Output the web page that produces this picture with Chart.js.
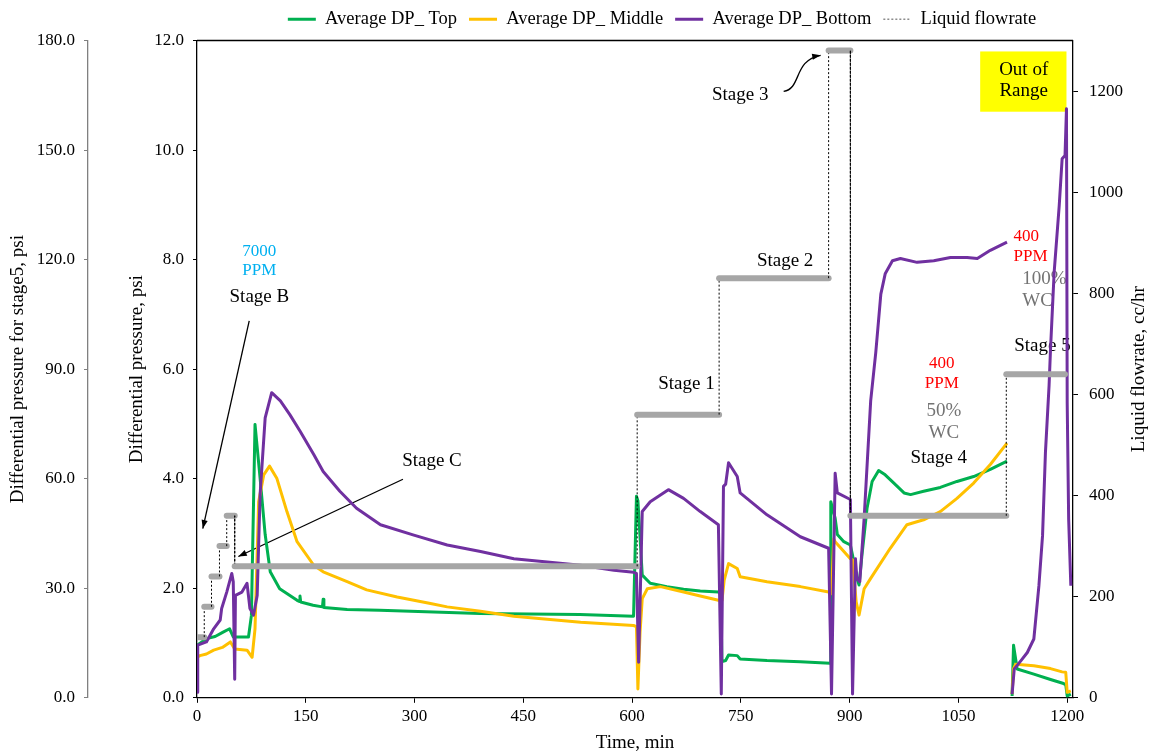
<!DOCTYPE html>
<html>
<head>
<meta charset="utf-8">
<script src="https://cdn.jsdelivr.net/npm/chart.js@4"></script>
<style>
  html, body { margin: 0; padding: 0; background: #fff; }
  #wrap { width: 1152px; height: 755px; }
</style>
</head>
<body>
<div id="wrap"><canvas id="graficoDP"></canvas></div>
<script>
// Tempo (min) e pressão diferencial (psi) - estágios B, C, 1 a 4
const tTop = [
  0, 13, 25, 36, 45, 50, 71, 75, 80, 87,
  94, 101, 114, 138, 141, 142, 143, 160, 173, 174,
  175, 207, 252, 390, 528, 602, 606, 608, 614, 625,
  648, 671, 694, 719, 722, 724, 729, 733, 745, 749,
  786, 832, 873, 874, 880, 883, 892, 901, 904, 910,
  913, 917, 924, 931, 940, 949, 961, 975, 984, 1002,
  1025, 1048, 1071, 1094, 1117
];
const dpTop = [
  0.96, 1.08, 1.12, 1.20, 1.26, 1.11, 1.11, 1.50, 4.99, 4.01,
  2.98, 2.30, 1.99, 1.78, 1.76, 1.86, 1.75, 1.69, 1.66, 1.80,
  1.65, 1.61, 1.60, 1.54, 1.52, 1.49, 3.68, 3.60, 2.24, 2.09,
  2.03, 1.98, 1.95, 1.93, 1.90, 0.66, 0.68, 0.78, 0.77, 0.71,
  0.68, 0.66, 0.63, 3.58, 3.28, 2.98, 2.85, 2.79, 2.60, 2.18,
  2.06, 2.61, 3.46, 3.95, 4.15, 4.07, 3.92, 3.74, 3.71, 3.77,
  3.84, 3.95, 4.04, 4.17, 4.32
];

const tMid = [
  0, 4, 13, 23, 35, 46, 52, 69, 76, 80,
  85, 92, 100, 110, 124, 138, 161, 174, 207, 234,
  276, 322, 345, 391, 437, 529, 602, 606, 608, 611,
  614, 621, 639, 671, 694, 719, 724, 727, 733, 745,
  749, 786, 832, 871, 875, 878, 880, 901, 904, 909,
  913, 920, 929, 956, 979, 1002, 1025, 1048, 1071, 1094,
  1117
];
const dpMid = [
  0.74, 0.77, 0.80, 0.87, 0.92, 1.02, 0.89, 0.87, 0.74, 1.26,
  3.58, 4.07, 4.23, 4.01, 3.40, 2.85, 2.42, 2.30, 2.12, 1.97,
  1.84, 1.72, 1.66, 1.58, 1.49, 1.38, 1.32, 1.30, 0.16, 1.20,
  1.81, 1.99, 2.03, 1.93, 1.86, 1.78, 1.78, 2.15, 2.45, 2.36,
  2.21, 2.12, 2.03, 1.93, 1.90, 2.90, 2.85, 2.54, 2.52, 1.75,
  1.51, 1.99, 2.18, 2.73, 3.16, 3.25, 3.40, 3.64, 3.92, 4.26,
  4.65
];

const tBot = [
  0, 1, 13, 23, 32, 34, 41, 48, 50, 52,
  53, 62, 69, 73, 78, 83, 87, 94, 103, 115,
  128, 142, 161, 174, 197, 220, 253, 299, 345, 391,
  437, 483, 529, 575, 602, 606, 609, 614, 625, 650,
  671, 694, 719, 723, 726, 729, 733, 745, 749, 786,
  832, 871, 875, 880, 883, 901, 904, 908, 910, 914,
  920, 929, 936, 943, 949, 959, 970, 993, 1016, 1039,
  1062, 1076, 1094, 1117
];
const dpBot = [
  0.10, 0.96, 1.02, 1.26, 1.42, 1.63, 1.93, 2.27, 2.12, 0.34,
  1.87, 1.93, 2.09, 1.63, 1.51, 1.87, 3.71, 5.11, 5.57, 5.42,
  5.17, 4.87, 4.44, 4.13, 3.77, 3.46, 3.16, 2.97, 2.79, 2.67,
  2.54, 2.48, 2.42, 2.33, 2.29, 2.27, 0.65, 3.40, 3.58, 3.80,
  3.64, 3.40, 3.16, 0.07, 3.86, 3.90, 4.29, 4.04, 3.74, 3.34,
  2.94, 2.73, 0.07, 4.10, 3.74, 3.62, 0.07, 2.54, 2.18, 2.12,
  3.28, 5.42, 6.30, 7.37, 7.74, 7.98, 8.02, 7.95, 7.98, 8.04,
  8.04, 8.02, 8.17, 8.32
];

// Estágio 5 (eixo secundário da esquerda, 0-180 psi)
const tTop5 = [1124, 1126, 1131, 1154, 1177, 1195, 1198, 1200, 1205];
const dpTop5 = [0.5, 14.4, 7.9, 6.5, 5.0, 3.9, 3.6, 0.5, 1.0];
const tMid5 = [1124, 1126, 1129, 1154, 1177, 1193, 1198, 1200, 1205];
const dpMid5 = [1.0, 8.0, 9.2, 8.8, 8.0, 7.1, 7.0, 1.5, 1.9];
const tBot5 = [1124, 1127, 1136, 1145, 1154, 1161, 1166, 1170, 1175, 1177, 1182, 1189, 1193, 1197, 1199, 1200, 1202, 1205];
const dpBot5 = [1.0, 7.9, 10.1, 12.4, 16.1, 30.7, 44.4, 67.2, 85.5, 95.5, 116.5, 134.8, 147.6, 148.5, 161.3, 80.8, 49.0, 30.7];

// Vazão de líquido (cc/hr) em degraus
const tFlow = [1, 10, 10, 20, 20, 31, 31, 41, 41, 52, 52, 607, 607, 720, 720, 871, 871, 901, 901, 1116, 1116, 1197];
const qFlow = [120, 120, 180, 180, 240, 240, 300, 300, 360, 360, 260, 260, 560, 560, 830, 830, 1280, 1280, 360, 360, 640, 640];

const serieNomes = ['Average DP_ Top', 'Average DP_ Middle', 'Average DP_ Bottom', 'Liquid flowrate'];
const xTicks = [0, 150, 300, 450, 600, 750, 900, 1050, 1200];
const flowTicks = [0, 200, 400, 600, 800, 1000, 1200];

const VERDE = '#00B050', AMARELO = '#FFC000', ROXO = '#7030A0', CINZA = '#A6A6A6';
const SERIF = '"Liberation Serif", "Times New Roman", serif';
Chart.defaults.font.family = SERIF;
Chart.defaults.color = '#000';

const pts = (ts, vs) => ts.map((t, i) => ({ x: t, y: vs[i] }));

// Textos e setas sobre o gráfico (coordenadas em tempo / psi)
const notas = [
  { text: '7000', t: 86, v: 8.15, color: '#00B0F0', size: 17, align: 'center' },
  { text: 'PPM', t: 86, v: 7.80, color: '#00B0F0', size: 17, align: 'center' },
  { text: 'Stage B', t: 86, v: 7.31, color: '#000', size: 19, align: 'center' },
  { text: 'Stage C', t: 324, v: 4.32, color: '#000', size: 19, align: 'center' },
  { text: 'Stage 1', t: 675, v: 5.73, color: '#000', size: 19, align: 'center' },
  { text: 'Stage 2', t: 811, v: 7.98, color: '#000', size: 19, align: 'center' },
  { text: 'Stage 3', t: 749, v: 11.01, color: '#000', size: 19, align: 'center' },
  { text: '400', t: 1027, v: 6.10, color: '#FF0000', size: 17, align: 'center' },
  { text: 'PPM', t: 1027, v: 5.73, color: '#FF0000', size: 17, align: 'center' },
  { text: '50%', t: 1030, v: 5.23, color: '#737373', size: 19, align: 'center' },
  { text: 'WC', t: 1030, v: 4.83, color: '#737373', size: 19, align: 'center' },
  { text: 'Stage 4', t: 1023, v: 4.37, color: '#000', size: 19, align: 'center' },
  { text: '400', t: 1126, v: 8.42, color: '#FF0000', size: 17, align: 'left' },
  { text: 'PPM', t: 1126, v: 8.06, color: '#FF0000', size: 17, align: 'left' },
  { text: '100%', t: 1138, v: 7.64, color: '#737373', size: 19, align: 'left' },
  { text: 'WC', t: 1138, v: 7.25, color: '#737373', size: 19, align: 'left' },
  { text: 'Stage 5', t: 1127, v: 6.43, color: '#000', size: 19, align: 'left' }
];

function seta(ctx, x1, y1, x2, y2) {
  const ang = Math.atan2(y2 - y1, x2 - x1);
  ctx.beginPath();
  ctx.moveTo(x1, y1);
  ctx.lineTo(x2, y2);
  ctx.stroke();
  ponta(ctx, x2, y2, ang);
}
function ponta(ctx, x, y, ang) {
  ctx.beginPath();
  ctx.moveTo(x, y);
  ctx.lineTo(x - 9 * Math.cos(ang - 0.35), y - 9 * Math.sin(ang - 0.35));
  ctx.lineTo(x - 9 * Math.cos(ang + 0.35), y - 9 * Math.sin(ang + 0.35));
  ctx.closePath();
  ctx.fill();
}

const anotacoes = {
  id: 'anotacoes',
  beforeDatasetsDraw(chart) {
    const { ctx, scales: { x, y } } = chart;
    const px = t => x.getPixelForValue(t);
    const py = v => y.getPixelForValue(v);
    ctx.save();
    // caixa "Out of Range"
    ctx.fillStyle = '#FFFF00';
    ctx.fillRect(px(1080), py(11.80), px(1199) - px(1080), py(10.70) - py(11.80));
    ctx.fillStyle = '#000';
    ctx.font = '19px ' + SERIF;
    ctx.textAlign = 'center';
    ctx.textBaseline = 'middle';
    ctx.fillText('Out of', px(1140), py(11.47));
    ctx.fillText('Range', px(1140), py(11.07));

    notas.forEach(n => {
      ctx.font = n.size + 'px ' + SERIF;
      ctx.fillStyle = n.color;
      ctx.textAlign = n.align;
      ctx.fillText(n.text, px(n.t), py(n.v));
    });

    ctx.strokeStyle = '#000';
    ctx.fillStyle = '#000';
    ctx.lineWidth = 1.3;
    seta(ctx, px(72), py(6.88), px(8), py(3.09));
    seta(ctx, px(284), py(3.99), px(57), py(2.58));
    // seta curva do Stage 3
    const p0 = [px(809), py(11.07)], c1 = [px(834), py(11.12)], c2 = [px(822), py(11.64)], p3 = [px(860), py(11.73)];
    ctx.beginPath();
    ctx.moveTo(p0[0], p0[1]);
    ctx.bezierCurveTo(c1[0], c1[1], c2[0], c2[1], p3[0], p3[1]);
    ctx.stroke();
    ponta(ctx, p3[0], p3[1], Math.atan2(p3[1] - c2[1], p3[0] - c2[0]));
    ctx.restore();
  },
  afterDraw(chart) {
    const { ctx, chartArea, scales: { yFlow } } = chart;
    ctx.save();
    // borda superior da área do gráfico
    ctx.strokeStyle = '#000';
    ctx.lineWidth = 1.3;
    ctx.beginPath();
    ctx.moveTo(chartArea.left, chartArea.top);
    ctx.lineTo(chartArea.right, chartArea.top);
    ctx.stroke();
    // título do eixo da direita, lido de baixo para cima
    ctx.translate(yFlow.right - 13, (chartArea.top + chartArea.bottom) / 2);
    ctx.rotate(-Math.PI / 2);
    ctx.font = '19px ' + SERIF;
    ctx.fillStyle = '#000';
    ctx.textAlign = 'center';
    ctx.textBaseline = 'middle';
    ctx.fillText('Liquid flowrate, cc/hr', 0, 0);
    ctx.restore();
  }
};

// desloca a legenda para a direita, como no original
const legendaDesloc = {
  id: 'legendaDesloc',
  afterLayout(chart) {
    if (chart.legend) {
      chart.legend.left += 86;
      chart.legend.right += 86;
      chart.legend.top -= 2;
      chart.legend.bottom -= 2;
    }
  }
};

const tickFont = { size: 17 };
const titleFont = { size: 19 };

const ctxDP = document.getElementById('graficoDP').getContext('2d');
new Chart(ctxDP, {
  type: 'line',
  data: {
    datasets: [
      {
        label: serieNomes[3],
        data: pts(tFlow, qFlow),
        yAxisID: 'yFlow',
        borderColor: CINZA,
        borderWidth: 6,
        pointRadius: 0,
        order: 0,
        legendStyle: { color: '#8C8C8C', width: 1.5, dash: [2, 2] },
        segment: {
          borderColor: c => c.p0.parsed.y === c.p1.parsed.y ? CINZA : '#000',
          borderWidth: c => c.p0.parsed.y === c.p1.parsed.y ? 6 : 1,
          borderDash: c => c.p0.parsed.y === c.p1.parsed.y ? [] : [2, 2],
          borderCapStyle: c => c.p0.parsed.y === c.p1.parsed.y ? 'round' : 'butt'
        }
      },
      { label: serieNomes[2], data: pts(tBot, dpBot), yAxisID: 'y', borderColor: ROXO, order: 1 },
      { label: serieNomes[1], data: pts(tMid, dpMid), yAxisID: 'y', borderColor: AMARELO, order: 2 },
      { label: serieNomes[0], data: pts(tTop, dpTop), yAxisID: 'y', borderColor: VERDE, order: 3 },
      { data: pts(tBot5, dpBot5), yAxisID: 'yOuter', borderColor: ROXO, order: 1 },
      { data: pts(tMid5, dpMid5), yAxisID: 'yOuter', borderColor: AMARELO, order: 2 },
      { data: pts(tTop5, dpTop5), yAxisID: 'yOuter', borderColor: VERDE, order: 3 }
    ]
  },
  options: {
    responsive: true,
    maintainAspectRatio: false,
    animation: false,
    events: [],
    datasets: {
      line: { borderWidth: 3, pointRadius: 0, tension: 0, fill: false, borderJoinStyle: 'round' }
    },
    plugins: {
      tooltip: { enabled: false },
      legend: {
        position: 'top',
        labels: {
          usePointStyle: true,
          pointStyleWidth: 28,
          padding: 12,
          font: { size: 18.5 },
          color: '#000',
          generateLabels: chart => {
            return serieNomes.map(nome => {
              const i = chart.data.datasets.findIndex(d => d.label === nome);
              const d = chart.data.datasets[i];
              const st = d.legendStyle || { color: d.borderColor, width: 3, dash: [] };
              return {
                text: nome, datasetIndex: i, pointStyle: 'line',
                fillStyle: st.color, strokeStyle: st.color, lineWidth: st.width,
                lineDash: st.dash, fontColor: '#000', hidden: false
              };
            });
          }
        }
      }
    },
    scales: {
      x: {
        type: 'linear',
        min: 0,
        max: 1208,
        afterBuildTicks: s => { s.ticks = xTicks.map(v => ({ value: v })); },
        ticks: { font: tickFont, color: '#000', padding: 4, callback: v => String(v) },
        grid: { drawOnChartArea: false, tickLength: 5, color: '#000' },
        border: { color: '#000', width: 1.3 },
        title: { display: true, text: 'Time, min', font: titleFont, color: '#000', padding: { top: 0, bottom: 1 } }
      },
      y: {
        position: 'left',
        weight: 0,
        min: 0,
        max: 12,
        afterFit: s => { s.width = 109; },
        ticks: { stepSize: 2, font: tickFont, color: '#000', padding: 9, callback: v => v.toFixed(1) },
        grid: { drawOnChartArea: false, tickLength: 4, color: '#000' },
        border: { color: '#000', width: 1.3 },
        title: { display: true, text: 'Differential pressure, psi', font: titleFont, color: '#000', padding: { top: 38, bottom: 4 } }
      },
      yOuter: {
        position: 'left',
        weight: 1,
        min: 0,
        max: 180,
        afterFit: s => { s.width = 88; },
        ticks: { stepSize: 30, font: tickFont, color: '#000', padding: 9, callback: v => v.toFixed(1) },
        grid: { drawOnChartArea: false, tickLength: 4, color: '#808080' },
        border: { color: '#808080', width: 1.3 },
        title: { display: true, text: 'Differential pressure for stage5, psi', font: titleFont, color: '#000', padding: { top: 7, bottom: 3 } }
      },
      yFlow: {
        position: 'right',
        min: 0,
        max: 1300,
        afterFit: s => { s.width = 79; },
        afterBuildTicks: s => { s.ticks = flowTicks.map(v => ({ value: v })); },
        ticks: { font: tickFont, color: '#000', padding: 11, callback: v => String(v) },
        grid: { drawOnChartArea: false, tickLength: 5, color: '#000' },
        border: { color: '#000', width: 1.3 },
        title: { display: true, text: 'Liquid flowrate, cc/hr', font: titleFont, color: 'rgba(0,0,0,0)', padding: { top: 2, bottom: 0 } }
      }
    }
  },
  plugins: [anotacoes, legendaDesloc]
});
</script>
</body>
</html>
